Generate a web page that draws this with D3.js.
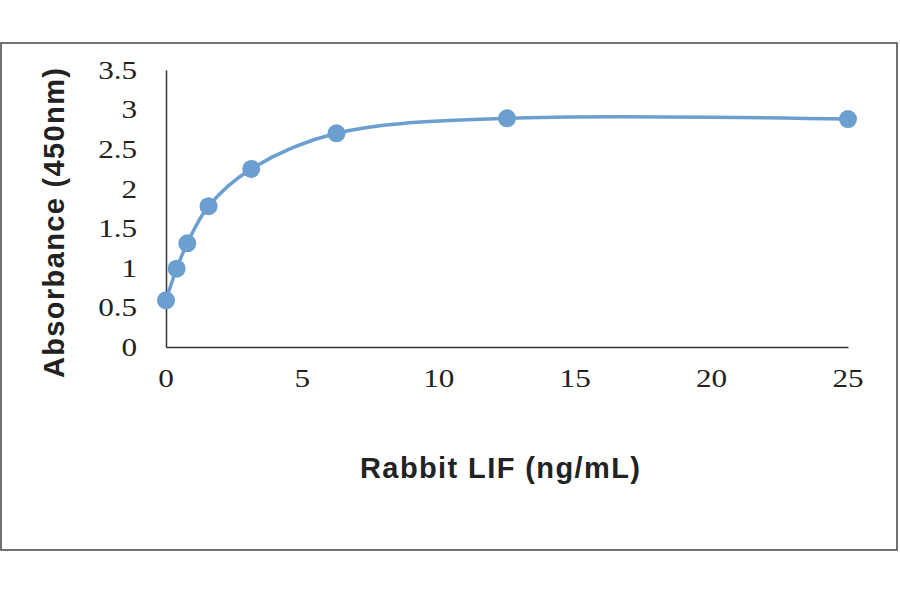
<!DOCTYPE html>
<html><head><meta charset="utf-8">
<script src="https://cdn.jsdelivr.net/npm/d3@7/dist/d3.min.js"></script>
<style>body{margin:0;background:#fff}</style>
</head><body>
<svg id="chart" width="900" height="594"></svg>
<script>
var concentrations = [0, 0.39, 0.78, 1.56, 3.125, 6.25, 12.5, 25];
var absorbance = [0.59, 0.99, 1.31, 1.78, 2.25, 2.70, 2.89, 2.88];
var xTicks = [0, 5, 10, 15, 20, 25];
var yTicks = [0, 0.5, 1, 1.5, 2, 2.5, 3, 3.5];

var svg = d3.select('#chart');
svg.append('rect').attr('x', 1).attr('y', 43).attr('width', 896).attr('height', 507)
	.attr('fill', 'none').attr('stroke', '#444').attr('stroke-width', 1.5);

var x = d3.scaleLinear().domain([0, 25]).range([166, 848]);
var y = d3.scaleLinear().domain([0, 3.5]).range([347, 70]);

var xAxis = svg.append('g').attr('transform', 'translate(0,347)')
	.call(d3.axisBottom(x).tickValues(xTicks).tickSize(0).tickPadding(22));
var yAxis = svg.append('g').attr('transform', 'translate(166,0)')
	.call(d3.axisLeft(y).tickValues(yTicks).tickSize(0).tickPadding(24).tickFormat(d3.format('')));
[xAxis, yAxis].forEach(function(a){
	a.select('.domain').attr('stroke', '#333').attr('stroke-width', 1.5);
	a.selectAll('text').attr('font-family', 'Liberation Serif, serif').attr('font-size', 26)
		.attr('fill', '#222').attr('transform', 'scale(1.2,1)');
});
// compensate scaling on positions
xAxis.selectAll('.tick').each(function(d){
	d3.select(this).attr('transform', 'translate(' + x(d) + ',0)');
	d3.select(this).select('text').attr('transform', 'scale(1.2,1)');
});

var pts = concentrations.map(function(c, i){ return [c, absorbance[i]]; });
var line = d3.line().x(function(d){ return x(d[0]); }).y(function(d){ return y(d[1]); })
	.curve(d3.curveCatmullRom.alpha(0.5));
svg.append('path').datum(pts).attr('d', line).attr('fill', 'none')
	.attr('stroke', '#6a9fd0').attr('stroke-width', 3.5);
svg.selectAll('circle.pt').data(pts).enter().append('circle')
	.attr('cx', function(d){ return x(d[0]); }).attr('cy', function(d){ return y(d[1]); })
	.attr('r', 9).attr('fill', '#6a9fd0');

svg.append('text').attr('x', 500).attr('y', 478).attr('text-anchor', 'middle')
	.attr('font-family', 'Liberation Sans, Arial').attr('font-weight', 'bold').attr('font-size', 29)
	.attr('fill', '#222').attr('textLength', 280).text('Rabbit LIF (ng/mL)');
svg.append('text').attr('transform', 'translate(64,223) rotate(-90)').attr('text-anchor', 'middle')
	.attr('font-family', 'Liberation Sans, Arial').attr('font-weight', 'bold').attr('font-size', 29)
	.attr('fill', '#222').attr('textLength', 310).text('Absorbance (450nm)');
</script>
</body></html>
